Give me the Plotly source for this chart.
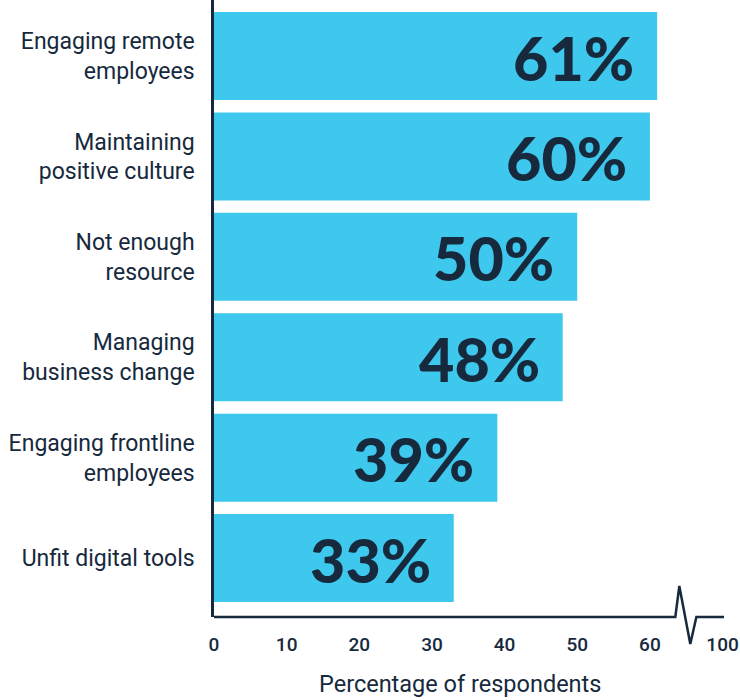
import plotly.graph_objects as go

categories = [
    "Engaging remote<br>employees",
    "Maintaining<br>positive culture",
    "Not enough<br>resource",
    "Managing<br>business change",
    "Engaging frontline<br>employees",
    "Unfit digital tools",
]
values = [61, 60, 50, 48, 39, 33]
tick_vals = [0, 10, 20, 30, 40, 50, 60, 70]
tick_text = ["0", "10", "20", "30", "40", "50", "60", "100"]
x_title = "Percentage of respondents"

NAVY = "#16293d"
BAR = "#3fc8ee"
X_MAX = 70.2

fig = go.Figure()
fig.add_trace(go.Bar(
    x=values, y=categories, orientation="h",
    marker=dict(color=BAR, line=dict(width=0)),
    hoverinfo="skip",
))

for v, c in zip(values, categories):
    fig.add_annotation(
        x=v, y=c, xref="x", yref="y", text=f"{v}%",
        showarrow=False, xanchor="right", yanchor="middle",
        xshift=-21, yshift=-1,
        font=dict(family="Lato", size=61, color=NAVY, weight=900),
    )

# x-axis line with a break symbol before the last tick
fig.add_shape(
    type="path", xref="x", yref="paper",
    path=f"M 0,0 L 63.5,0 L 64.05,0.0502 L 65.56,-0.0438 L 66.4,0 L {X_MAX},0",
    line=dict(color=NAVY, width=2.5),
)

fig.add_annotation(
    x=0.482, y=-0.1086, xref="paper", yref="paper", text=x_title,
    showarrow=False, xanchor="center", yanchor="middle",
    font=dict(family="Roboto", size=23.5, color=NAVY),
)

fig.update_layout(
    width=740, height=700,
    margin=dict(l=214, r=740 - 724, t=0, b=83),
    paper_bgcolor="white", plot_bgcolor="white",
    bargap=0.1235,
    showlegend=False,
    xaxis=dict(
        range=[0, X_MAX], tickvals=tick_vals, ticktext=tick_text,
        showgrid=False, zeroline=False, showline=False, ticks="",
        ticklabelstandoff=14,
        tickfont=dict(family="Roboto", size=19, color=NAVY, weight=500),
    ),
    yaxis=dict(
        range=[5.587, -0.558], showgrid=False, zeroline=False,
        showline=True, linecolor=NAVY, linewidth=2.5, ticks="",
        ticklabelstandoff=12,
        tickfont=dict(family="Roboto", size=23, color=NAVY),
    ),
)

fig.write_html("out.html")
